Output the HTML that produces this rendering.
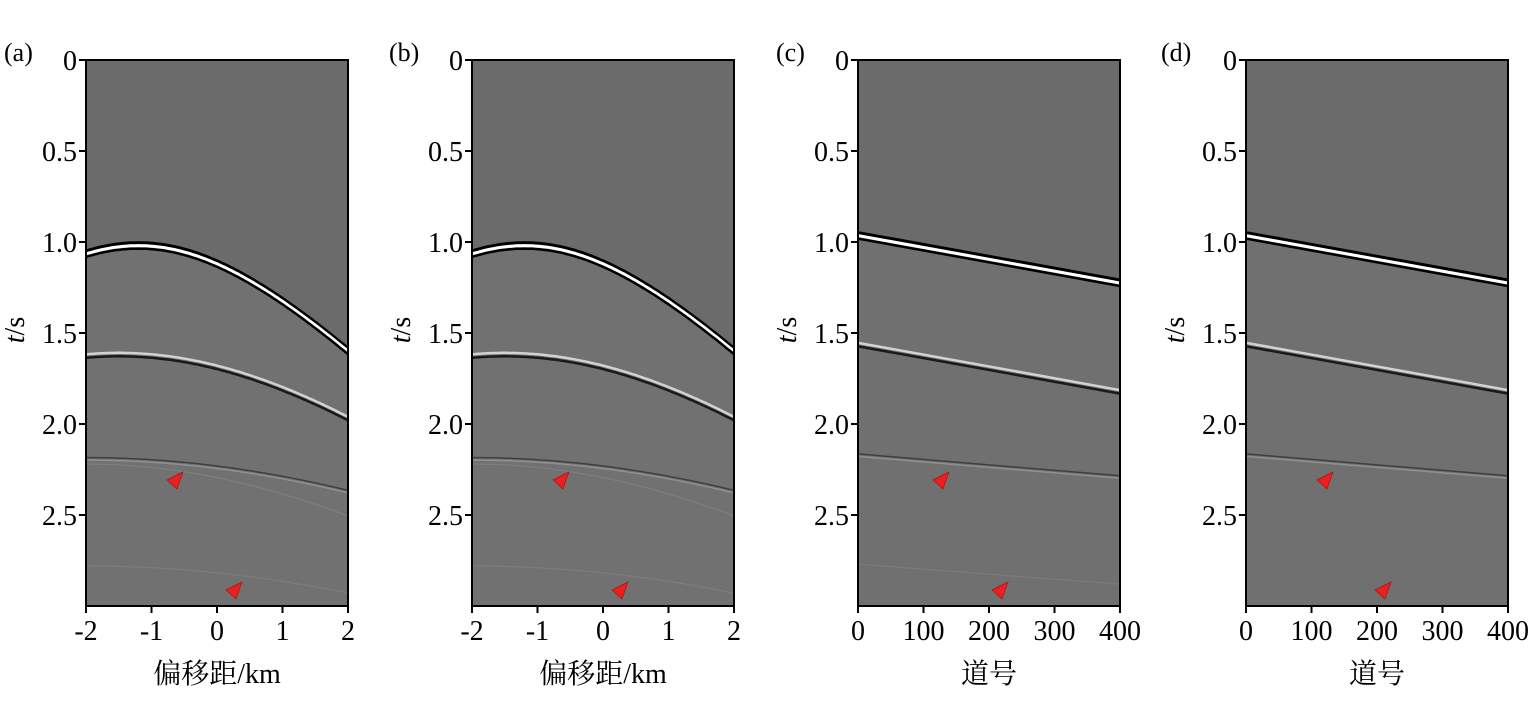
<!DOCTYPE html>
<html><head><meta charset="utf-8"><style>
html,body{margin:0;padding:0;background:#fff;}
svg{display:block;}
text{font-family:"Liberation Serif","Noto Serif CJK SC",serif;fill:#000;}
</style></head><body>
<svg id="s" width="1535" height="709" xmlns="http://www.w3.org/2000/svg">
<g id="plots"></g>
<g font-size="26">
<text x="4" y="61" font-size="26">(a)</text>
<text x="389" y="61" font-size="26">(b)</text>
<text x="776" y="61" font-size="26">(c)</text>
<text x="1161" y="61" font-size="26">(d)</text>
</g>
<g id="labels" font-size="28"></g>
</svg>
<script>
const NS="http://www.w3.org/2000/svg";
const P=document.getElementById('plots'), L=document.getElementById('labels');
const y0=60,y1=606,sc=182;
const panels=[{x:86,kind:'h',lab:'偏移距/km',tri:[91,150]},{x:472,kind:'h',lab:'偏移距/km',tri:[91,150]},{x:858,kind:'l',lab:'道号',tri:[85,144]},{x:1246,kind:'l',lab:'道号',tri:[81,139]}];
const W=262;
function el(tag,attrs,parent,txt){const e=document.createElementNS(NS,tag);for(const k in attrs)e.setAttribute(k,attrs[k]);if(txt!==undefined)e.textContent=txt;(parent||P).appendChild(e);return e;}
function path(pts){return pts.map((p,i)=>(i?'L':'M')+p[0].toFixed(1)+' '+p[1].toFixed(1)).join(' ');}
function ty(t){return y0+t*sc;}
function wave(g,pts,w,strength,order){
  for(const [off,col,sw] of order){
    el('path',{d:path(pts.map(p=>[p[0],p[1]+off])),stroke:col,'stroke-width':sw,fill:'none','stroke-opacity':strength},g);
  }
}
panels.forEach((pn,i)=>{
  const g=el('g',{});
  const cp='c'+i;
  const cl=el('clipPath',{id:cp},g);el('rect',{x:pn.x,y:y0,width:W,height:y1-y0},cl);
  el('rect',{x:pn.x,y:y0,width:W,height:y1-y0,fill:'#6b6b6b'},g);
  const gg=el('g',{'clip-path':'url(#'+cp+')'},g);
  const strong=[[-3,'#000',3],[0,'#fff',3],[3,'#000',2.5]];
  const mid=[[-2,'#ddd',2.5],[1.5,'#111',2.5]];
  const faint=[[-1,'#333',1.5],[1.5,'#999',1.5]];
  const vfaint=[[0,'#888',1.2]];
  if(pn.kind==='h'){
    const hyp=(x0,t0,v2)=>{const a=[];for(let k=0;k<=100;k++){const x=-2+4*k/100;const t=Math.sqrt(t0*t0+(x-x0)*(x-x0)/v2);a.push([pn.x+(x+2)/4*W,ty(t)]);}return a;};
    const c1=hyp(-1.2,1.02,6.74),c2=hyp(-1.5,1.62,9.7);
    el('path',{d:path(c1)+' L'+(pn.x+W)+' '+y1+' L'+pn.x+' '+y1+' Z',fill:'#717171'},gg);
    wave(gg,c1,0,1,strong);
    wave(gg,c2,0,0.9,mid);
    wave(gg,hyp(-2,2.19,19.5),0,0.8,faint);
    wave(gg,hyp(-2,2.22,11.9),0,0.6,vfaint);
    wave(gg,hyp(-2,2.78,18.8),0,0.5,vfaint);
  }else{
    const ln=(a,b)=>[[pn.x,ty(a)],[pn.x+W,ty(b)]];
    el('path',{d:'M'+pn.x+' '+ty(0.96)+' L'+(pn.x+W)+' '+ty(1.22)+' L'+(pn.x+W)+' '+y1+' L'+pn.x+' '+y1+' Z',fill:'#707070'},gg);
    wave(gg,ln(0.965,1.225),0,1,strong);
    wave(gg,ln(1.565,1.825),0,0.9,mid);
    wave(gg,ln(2.17,2.29),0,0.8,faint);
    if(i===2)wave(gg,ln(2.77,2.88),0,0.5,vfaint);
  }
  el('rect',{x:pn.x,y:y0,width:W,height:y1-y0,fill:'none',stroke:'#000','stroke-width':2},g);
  [['0',0],['0.5',0.5],['1.0',1],['1.5',1.5],['2.0',2],['2.5',2.5]].forEach(([s,t])=>{
    const y=ty(t);el('line',{x1:pn.x-7,x2:pn.x,y1:y,y2:y,stroke:'#000','stroke-width':2},g);
    el('text',{x:pn.x-9,y:y+10,'text-anchor':'end'},L,s);
  });
  const xt=pn.kind==='h'?['-2','-1','0','1','2']:['0','100','200','300','400'];
  xt.forEach((s,k)=>{const x=pn.x+W*k/4;el('line',{x1:x,x2:x,y1:y1,y2:y1+7,stroke:'#000','stroke-width':2},g);
    el('text',{x:x,y:y1+34,'text-anchor':'middle'},L,s);});
  el('text',{x:pn.x+W/2,y:683,'text-anchor':'middle'},L,pn.lab);
  const ylab=el('text',{transform:'translate('+(pn.x-62)+',330) rotate(-90)','text-anchor':'middle'},L);
  el('tspan',{'font-style':'italic'},ylab,'t');el('tspan',{},ylab,'/s');
  [[pn.x+pn.tri[0],480],[pn.x+pn.tri[1],590]].forEach(([cx,cy])=>el('polygon',{points:`${cx-10},${cy} ${cx+6},${cy-8} ${cx},${cy+9}`,fill:'#e8201f',stroke:'#b01010','stroke-width':0.7},g));
});
</script>
</body></html>
